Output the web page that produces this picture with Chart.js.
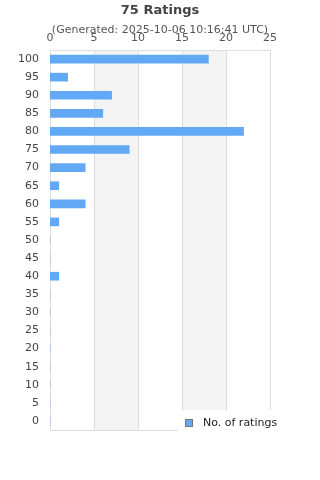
<!DOCTYPE html>
<html>
<head>
<meta charset="utf-8">
<script src="https://cdn.jsdelivr.net/npm/chart.js@4"></script>
<style>
html,body{margin:0;padding:0;background:#fff;}
#wrap{width:320px;height:480px;position:relative;}
</style>
</head>
<body>
<div id="wrap"><canvas id="c" width="320" height="480"></canvas></div>
<script>
const titleText = "75 Ratings";
const subtitleText = "(Generated: 2025-10-06 10:16:41 UTC)";
const categories = ["100","95","90","85","80","75","70","65","60","55","50","45","40","35","30","25","20","15","10","5","0"];
const ratingCounts = [18,2,7,6,22,9,4,1,4,1,0,0,1,0,0,0,0,0,0,0,0];
const seriesLabel = "No. of ratings";
const xTicks = [0,5,10,15,20,25];

const FONT = "'DejaVu Sans', sans-serif";
const barColor = "#62a9f5";

const bandsPlugin = {
  id: 'bands',
  beforeDatasetsDraw(chart) {
    const {ctx, chartArea: a, scales: {x}} = chart;
    ctx.save();
    ctx.fillStyle = '#f3f3f3';
    for (let i = 1; i < xTicks.length - 1; i += 2) {
      const x0 = x.getPixelForValue(xTicks[i]);
      const x1 = x.getPixelForValue(xTicks[i+1]);
      ctx.fillRect(x0, a.top, x1 - x0, a.bottom - a.top);
    }
    ctx.strokeStyle = '#dedede';
    ctx.lineWidth = 1;
    for (const v of xTicks) {
      const px = Math.round(x.getPixelForValue(v)) + 0.5;
      ctx.beginPath(); ctx.moveTo(px, a.top); ctx.lineTo(px, a.bottom); ctx.stroke();
    }
    ctx.beginPath();
    ctx.moveTo(a.left, Math.round(a.top)+0.5); ctx.lineTo(a.right, Math.round(a.top)+0.5);
    ctx.moveTo(a.left, Math.round(a.bottom)+0.5); ctx.lineTo(a.right, Math.round(a.bottom)+0.5);
    ctx.stroke();
    ctx.restore();
  }
};

const headerPlugin = {
  id: 'header',
  afterDraw(chart) {
    const {ctx} = chart;
    ctx.save();
    ctx.textAlign = 'center';
    ctx.textBaseline = 'middle';
    ctx.fillStyle = '#444';
    ctx.font = "bold 13px " + FONT;
    ctx.fillText(titleText, 160, 11);
    ctx.fillStyle = '#555';
    ctx.font = "11px " + FONT;
    ctx.fillText(subtitleText, 160, 30);
    const ds = chart.data.datasets[0];
    ctx.fillStyle = '#fff';
    ctx.fillRect(178, 410, 142, 30);
    ctx.fillStyle = ds.backgroundColor;
    ctx.fillRect(185.5, 419.5, 7, 7);
    ctx.strokeStyle = '#777';
    ctx.lineWidth = 1;
    ctx.strokeRect(185.5, 419.5, 7, 7);
    ctx.fillStyle = '#222';
    ctx.textAlign = 'left';
    ctx.font = "11px " + FONT;
    ctx.fillText(ds.label, 203, 423);
    ctx.restore();
  }
};

new Chart(document.getElementById('c'), {
  type: 'bar',
  data: {
    labels: categories,
    datasets: [{
      label: seriesLabel,
      data: ratingCounts,
      backgroundColor: barColor,
      borderWidth: 0,
      barThickness: 8
    }]
  },
  options: {
    indexAxis: 'y',
    responsive: false,
    animation: false,
    layout: { padding: { top: 31, left: 0, right: 50, bottom: 50 } },
    plugins: {
      legend: { display: false },
      title: { display: false },
      tooltip: { enabled: false }
    },
    scales: {
      x: {
        position: 'top',
        min: 0, max: 25,
        afterBuildTicks(s) { s.ticks = xTicks.map(v => ({value: v})); },
        afterFit(s) { s.height = 19; },
        grid: { display: false, drawTicks: false },
        border: { display: true, color: '#dedede' },
        ticks: { color: '#555', font: { family: FONT, size: 11 }, padding: 5, maxRotation: 0 }
      },
      y: {
        afterFit(s) { s.width = 50; },
        grid: { display: false, drawTicks: false },
        border: { display: true, color: '#cfcfcf' },
        ticks: { color: '#444', font: { family: FONT, size: 11 }, padding: 11, autoSkip: false }
      }
    }
  },
  plugins: [bandsPlugin, headerPlugin]
});
</script>
</body>
</html>
